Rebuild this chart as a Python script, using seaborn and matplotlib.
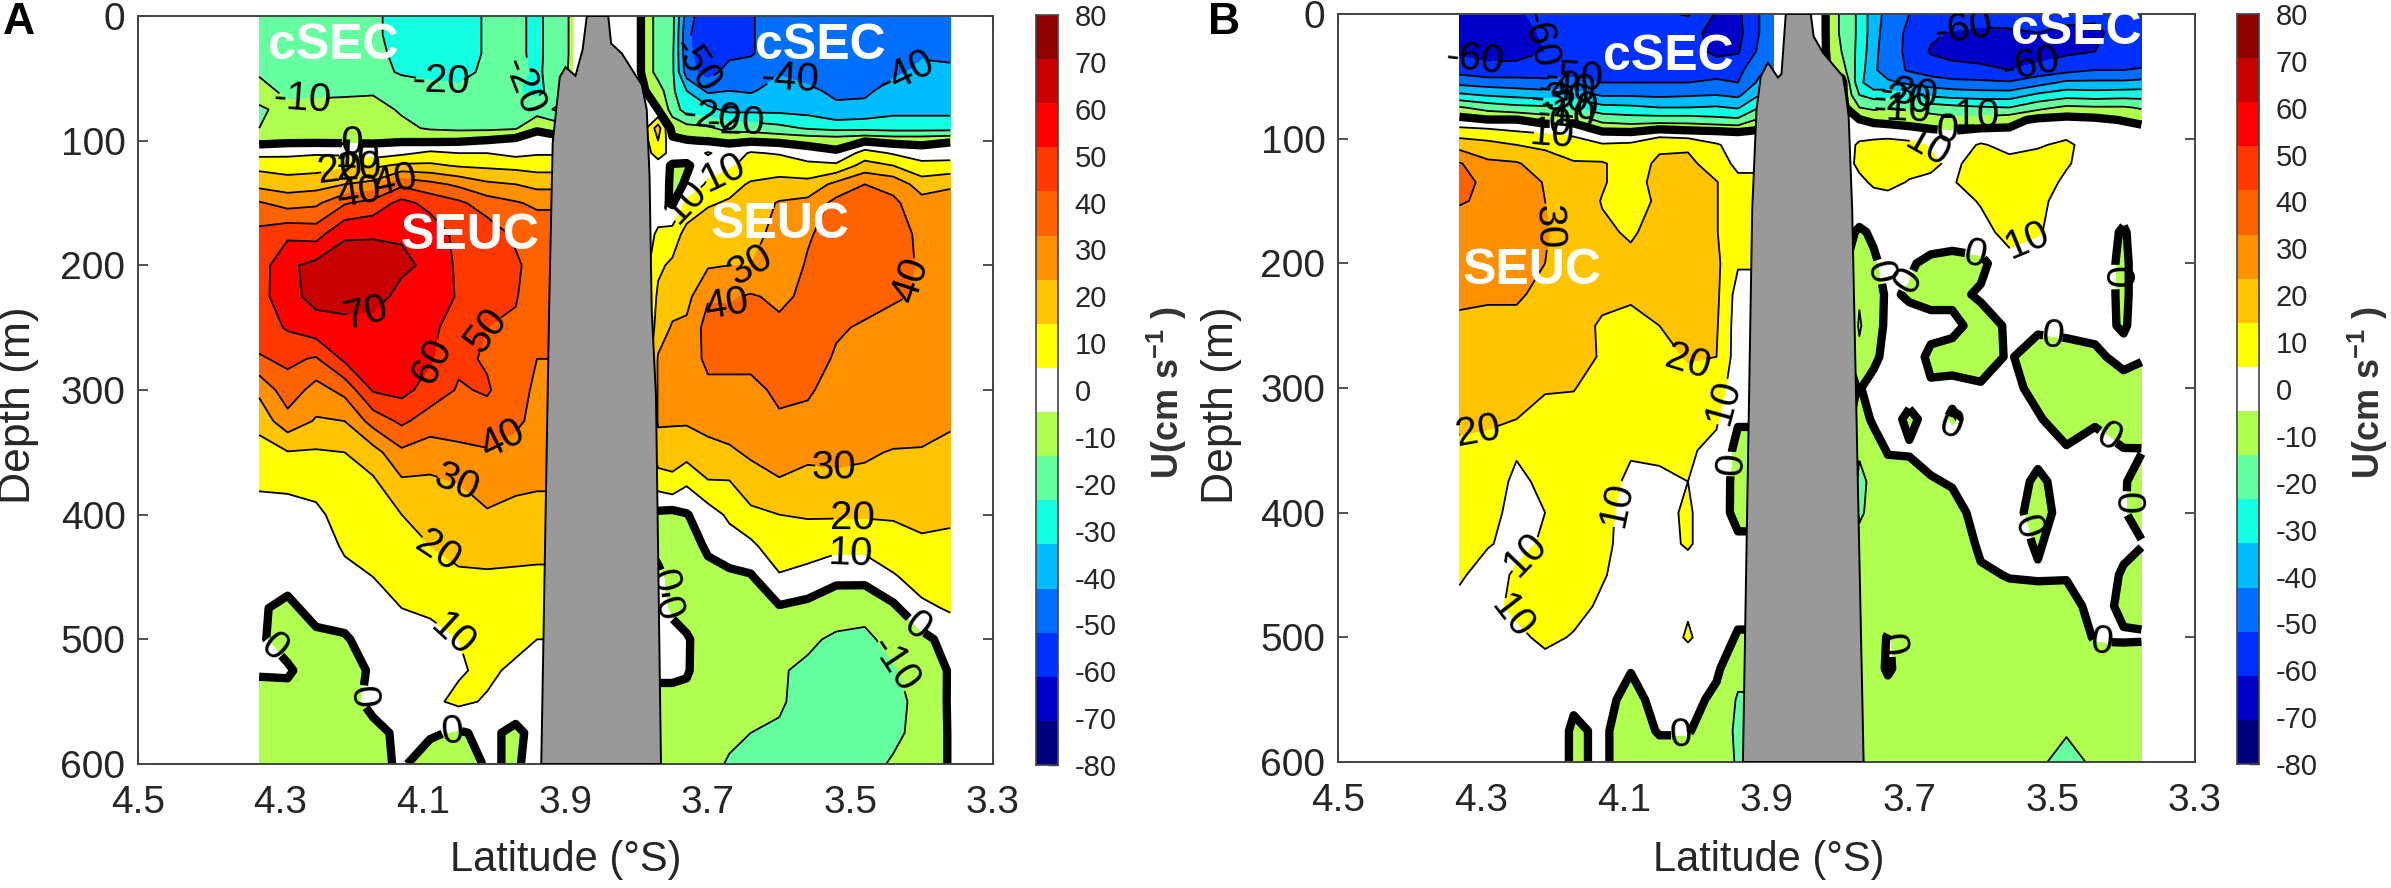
import numpy as np
import seaborn as sns
import matplotlib
matplotlib.use('Agg')
import matplotlib.pyplot as plt

sns.set_style('white')
plt.rcParams['font.family'] = ['Liberation Sans', 'DejaVu Sans']
plt.rcParams['mathtext.fontset'] = 'custom'
plt.rcParams['mathtext.rm'] = 'Liberation Sans'
plt.rcParams['mathtext.bf'] = 'Liberation Sans:bold'

W, H = 2391, 888

# colour of each 10 cm/s band, from -80 up to 80
BAND_COLORS = ['#00007f', '#0000c8', '#0030ff', '#006eff', '#00bdff', '#12ffe2', '#66ffa0', '#b0ff50', '#ffffff',
               '#ffff00', '#ffc400', '#ff9000', '#ff6200', '#ff3800', '#ff0000', '#c80000', '#8f0000']
BAR_TICKS = list(range(80, -90, -10))
X_TICKS = [4.5, 4.3, 4.1, 3.9, 3.7, 3.5, 3.3]
Y_TICKS = [0, 100, 200, 300, 400, 500, 600]

# ------------------ PANEL A ------------------ #
DEPTH_A = [0, 15, 30, 45, 60, 75, 90, 100, 110, 120, 135, 150, 175, 200, 225, 250, 275, 300, 325, 350,
           375, 400, 425, 450, 475, 500, 525, 550, 575, 600]
LAT_A_W = [4.33, 4.29, 4.25, 4.21, 4.17, 4.13, 4.09, 4.05, 4.01, 3.97, 3.94, 3.91, 3.89]
U_A_W = [
    [-15, -15, -15, -11, -7, -11, -10, -3, 7, 17, 27, 41, 53, 55, 56, 55, 49, 32, 24, 15, 11, 7, 5, 2, 1, 1, 1, -4, -5, -5],
    [-15, -15, -15, -14, -12, -8, -6, -2, 8, 15, 25, 36, 58, 68, 67, 61, 52, 46, 36, 19.5, 11, 8, 6, 3, -2, -3, 1, -3, -5, -5],
    [-16, -16, -16, -15, -12, -7, -5, -2, 9, 16, 26, 38, 56, 73, 73, 66, 49, 36, 29, 19, 13, 8, 6, 5, 3, -2, -4, -5, -5, -5],
    [-17, -17, -17, -16, -12, -6, -4, -2, 8, 18, 30, 49, 69, 74, 74, 67, 62, 43, 30, 20, 17, 14, 11, 8, 4, -1, -3, -3, -4, -4],
    [-19, -19, -18, -17, -11, -7, -5, -1.5, 5, 18, 33, 54, 69, 75, 74, 66, 63, 61, 44, 26, 18, 16, 13, 10, 7, 4, 1, 2, -2, -2],
    [-22, -22, -22, -21, -15, -11, -8, -1, 8, 22, 48, 63, 69, 72, 67, 66, 65, 63, 52, 38, 28, 20, 17, 13, 10, 8, 5, 4, 1.5, 1],
    [-24, -24, -24, -23, -16, -13, -11, -1.5, 12, 22, 43, 57, 66, 68, 66, 63, 61, 56, 45, 35, 28, 23, 20, 16, 11, 8, 5, 8, 1, -4],
    [-24, -24, -24, -23, -18, -15, -12, -1, 10, 19, 38, 52, 57, 58, 59, 54, 52, 49, 44, 38, 30, 27, 24, 18, 13, 10, 9, 12, -1, -5],
    [-19, -19, -19, -18, -17, -15, -12, 0.5, 10, 18, 32, 45, 56, 53, 52, 50, 49, 51, 46, 39, 34, 29, 23, 19, 16, 14, 12, 9, 2, 1],
    [-18, -18, -18, -17, -19, -15, -11, 3, 7, 17, 30, 41, 48, 52, 51, 48, 46, 44, 42, 36, 32, 27, 24, 18, 15, 13, 8, 5, -2, -1],
    [-22, -22, -22, -22, -23, -15, -1, 3, 9, 16, 27, 38, 47, 45, 42, 41, 40, 38, 37, 34, 31, 27, 23, 18, 15, 10, 7, 3, 3, 3],
    [-15, -15, -15, -14, -14, -22, -4, 3, 9, 16, 27, 38, 47, 45, 42, 41, 40, 38, 37, 34, 31, 27, 23, 18, 15, 10, 7, 3, 3, 3],
    [-8, -8, -8, -8, -8, -8, -4, 3, 9, 16, 27, 38, 47, 45, 42, 41, 40, 38, 37, 34, 31, 27, 23, 18, 15, 10, 7, 3, 3, 3],
]
LAT_A_E = [3.82, 3.795, 3.77, 3.75, 3.73, 3.70, 3.67, 3.64, 3.60, 3.56, 3.52, 3.48, 3.44, 3.40, 3.36]
U_A_E = [
    [6] * 30,
    [0.5, 0.5, 0.5, 0.5] + [2] * 26,
    [-14, -14, -14, -14, -5, 0, 25, 20, 15, 5, 10, 3, 12, 18, 22, 25, 31, 31, 31, 26, 14, -2, -3, 2, 2, 1, 2, -3, -4, -3],
    [-17, -17, -18, -18, -18, -14, -4, 2, 6, -1, -3, -1, 14, 22, 26, 31, 33, 32, 31, 25, 17, -3, -4, -3, -1, 2, 2, -3, -4, -5],
    [-45, -48, -47, -45, -30, -25, -6, 0.5, 4, -1, 1, 12, 24, 23, 27, 32, 33, 33, 31, 24, 11, -0.5, -3, -3, -4, 1, 1, -3, -4, -5],
    [-58, -58, -58, -55, -42, -27, -8, -0.5, 11, 5, 12, 19, 26, 29, 39, 44, 43, 37, 33, 27, 19, 5, 1, -2, -5, -5, -6, -6, -6, -7],
    [-52, -53, -53, -45, -40, -33, -14, -1.5, 5, 8, 17, 21, 25, 30, 39, 43, 43, 37, 33, 29, 19, 12, 5, -2, -6, -7, -7, -7, -8, -11],
    [-51, -51, -51, -45, -41, -33, -14, -1, 11, 15, 21, 24, 27, 30, 41, 44, 44, 36, 34, 31, 27, 17, 8, -1, -6, -8, -8, -8, -10, -12],
    [-44, -44, -44, -41, -36, -33, -17, -2, 9, 17, 22, 31, 33, 34, 38, 42, 44, 43, 38, 34, 29, 20, 16, 9, -1, -8, -9, -9, -11, -10.5],
    [-44, -44, -44, -42, -39, -34, -21, -3, 4, 13, 23, 33, 39, 41, 42, 44, 44, 41, 38, 32, 27, 21, 14, 7, -3, -8, -12, -13, -13, -14],
    [-44, -44, -44, -43, -41, -39, -23, -4, 1.5, 12, 33, 43, 44, 44, 43, 41, 39, 37, 36, 32, 28, 21, 13, 1.5, -4, -12, -13, -14, -14, -14],
    [-44, -44, -44, -44, -42, -37, -23, -1, 14, 24, 40, 50, 46, 45, 43, 39, 37, 37, 36, 31, 28, 21, 13, 2.5, -7, -12, -15, -15, -14, -13],
    [-44, -44, -44, -42, -36, -33, -24, -3, 9, 20, 37, 42, 44, 43, 41, 37, 37, 35, 34, 29.5, 28, 21, 16, 9, -2, -7, -11, -13, -12, -9],
    [-41, -41, -41, -38, -35, -33, -24, -3, 5, 13, 25, 34, 38, 39, 39, 35, 33, 34, 35, 29, 27, 23, 18, 14, 8, -3, -6, -7, -7, -7],
    [-42, -42, -42, -38, -36, -33, -24, -1, 6, 13, 29, 33, 33, 33, 33, 33, 33, 33, 31, 28, 26, 21.5, 18, 15, 11, 4, 0.8, 1, 0.8, 0.8],
]
RIDGE_A_LAT = [3.870, 3.876, 3.886, 3.900, 3.908, 3.913, 3.918, 3.923, 3.934, 3.766, 3.773, 3.779, 3.782, 3.786, 3.793, 3.800, 3.821, 3.836, 3.840]
RIDGE_A_DEPTH = [0, 27, 48, 41, 49, 75, 102, 236, 600, 600, 305, 236, 129, 75, 55, 49, 30, 22, 0]
LABELS_A = [(4.27, 62), (4.076, 55), (3.963, 55), (4.19, 100), (4.19, 118), (4.21, 128), (4.19, 145), (4.14, 132),
            (4.18, 239), (4.10, 271), (4.02, 250), (3.985, 344), (4.055, 378), (4.08, 430), (4.055, 493),
            (3.443, 523), (3.416, 212), (3.636, 210), (3.674, 232), (3.523, 362), (3.497, 400), (3.50, 434),
            (3.68, 123), (3.727, 151), (3.72, 40), (3.588, 58), (3.427, 37), (3.695, 80), (3.67, 85)]
ZEROS_A = [(4.296, 496), (4.19, 546), (4.06, 571), (3.405, 487), (3.73, 450), (3.755, 475), (4.20, 95)]

# ------------------ PANEL B ------------------ #
DEPTH_B = [0, 15, 30, 45, 55, 65, 75, 85, 95, 105, 120, 135, 150, 175, 200, 225, 250, 275, 300, 325,
           350, 375, 400, 425, 450, 475, 500, 525, 550, 575, 600]
LAT_B_W = [4.33, 4.29, 4.25, 4.21, 4.17, 4.13, 4.09, 4.05, 4.01, 3.97, 3.94, 3.91, 3.89]
U_B_W = [
    [-64, -65, -62, -54, -43, -28, -9, 3, 15, 26, 41, 44, 41, 34, 33, 31, 29, 27, 25, 22, 18, 16, 15, 14, 11, 8, 6, 6, 6, 6, 6],
    [-63, -65, -64, -57, -45, -31, -14, 0.5, 14, 23, 32, 37, 38, 37, 34, 31, 28, 26, 25, 21, 18, 15, 13, 10.5, 7, 6, 6, 6, 6, 6, 6],
    [-62, -65, -64, -56, -46, -33, -17, 0.5, 11, 20, 31, 34, 35, 36, 33, 32, 26, 26, 24, 20, 11, 8, 7, 8, 11, 13, 7, 5, 5, 5, 5],
    [-56, -58, -60, -56, -47, -35, -18, -4, 9, 18, 25, 29.5, 30, 30.5, 30, 26, 25, 24, 21, 16, 13, 12, 10, 11, 15, 16, 13, 5, 5, 5, 5],
    [-52, -55, -57, -54, -47, -35, -20, -3, 8, 14, 21, 26, 26, 27, 26, 26, 26, 24, 20.5, 16, 14, 13, 13, 15, 15, 14, 9, 6, 1, -1, -1],
    [-53, -55, -56, -54, -50, -41, -27, -13, 1, 11, 21, 21, 19.5, 21.5, 24, 24, 18, 19, 15, 14, 14, 14, 13, 13, 11, 8, 6, 4, 3, 1, 1],
    [-53, -55, -55, -54, -50, -41, -28, -15, 0.5, 12, 15, 15, 15, 19, 22, 22, 16, 17, 15, 14, 11, 8, 6, 5, 5, 4, 3, 0.5, -3, -3, -3],
    [-52, -56, -56, -54, -50, -42, -30, -15, 5, 18, 22, 24, 22, 23, 22, 21, 20, 16, 14, 14, 11, 9, 8, 7, 7, 7, 5, 4, 3, 0.5, -3],
    [-49, -57, -56, -54, -50, -41, -30, -15, 3, 18, 23, 24, 24, 25, 26, 26, 25, 21, 15, 13, 11, 10, 11, 11, 6, 9, 11, 5, 3, 0.5, -3],
    [-61, -63, -62, -55, -48, -40, -29, -17, 2, 11, 14, 20.5, 20.5, 20.5, 22, 22, 21, 20, 14, 11, 8, 7, 5, 5, 5, 5, 5, 1.5, -2, -4, -5],
    [-62, -63, -61, -53, -50, -42, -31, -18, 0.5, 6, 8, 12, 12, 12, 11, 6, 5, 5, 5, 1, -3, -4, -3, 2, 4, 3, -1, -7, -11, -12, -11],
    [-50, -50, -48, -42, -38, -30, -20, -8, 2, 5, 8, 12, 12, 12, 11, 6, 5, 5, 5, 1, -3, -4, -3, 2, 4, 3, -1, -7, -11, -12, -11],
    [-40, -40, -40, -40, -38, -30, -20, -8, 2, 5, 8, 12, 12, 12, 11, 6, 5, 5, 5, 1, -3, -4, -3, 2, 4, 3, -1, -7, -11, -12, -11],
]
LAT_B_E = [3.82, 3.795, 3.77, 3.75, 3.73, 3.70, 3.67, 3.64, 3.60, 3.56, 3.52, 3.48, 3.44, 3.40, 3.375]
U_B_E = [
    [1.5] * 31,
    [-12, -12, -10, -5, 3] + [3] * 26,
    [-22, -22, -23, -25, -27, -20, -10, 0.5, 5, 12, 13, 7, 5, -1, -8, -9, -11, -8, -0.5, -3, -9, -12, -11, -8, -7, -7, -7, -7, -7, -7, -7],
    [-36, -36, -37, -38, -38, -24, -12, -2, 6, 13, 14, 12, 5, 1, -1, -4, -4, -2, 3, 1, -3, -8, -8, -7, -7, -7, -7, -7, -7, -7, -7],
    [-43, -45, -46, -46, -38, -24, -11, -3, 6, 14, 15, 14, 5, 5, 2, 1.5, 2, 3, 5, 4, 0.5, -3, -7, -8, -8, -8, 1, 2, -7, -8, -8],
    [-50, -52, -52, -51, -42, -28, -11, -4, 4, 13, 15, 9, 7, 5, 1, -1, 3, 5, 4, -2, 1, -4, -8, -8, -8, -8, -8, -8, -8, -8, -8],
    [-50, -58, -61, -55, -45, -32, -15, -5, 2, 9, 12, 8, 6, 5, -2, -3, 3, -2, 1, 3, 4, -1, -5, -8, -8, -8, -8, -8, -8, -8, -8],
    [-52, -61, -62, -58, -47, -34, -17, -7, 1, 5, 8, 9, 5, 3, -2, -2, 2, -3, 2, -1, 3, 1, -4, -8, -8, -8, -8, -8, -8, -8, -8],
    [-55, -62, -64, -58, -48, -35, -19, -6, 3, 11, 14, 16, 11, 6, -2, 1, -3, -4, 1, 3, 5, 6, 4, 2, -1.5, -5, -8, -8, -8, -8, -8],
    [-53, -62, -66, -60, -49, -35, -20, -3, 2, 7, 13, 15, 11, 14, 6, 3, 1, 1, 3, 4, 5, 5, 5, 4, 0.5, -4, -8, -8, -8, -8, -8],
    [-52, -60, -66, -56, -44, -28, -13, 2, 6, 9, 14, 15, 13, 11, 4, 3, 2, -5, -3, 1, 3, -2, -5, -1, 1, -4, -8, -8, -8, -8, -8],
    [-57, -62, -62, -53, -38, -24, -8, 3, 7, 12, 11, 8, 5, 5, 5, 5, 2, -3, -6, -5, 1, 4, 5, 5, 1, -5, -8, -8, -8, -9, -14],
    [-58, -62, -60, -50, -38, -25, -9, 2, 6, 5, 5, 5, 5, 5, 5, 5, 3, -2, -5, -1, 3, 5, 5, 5, 5, 4, 1, -6, -8, -8, -8],
    [-55, -56, -57, -50, -38, -24, -9, -0.5, 5, 5, 5, 4, 4, -1, -2, -2, -1, 3, -4, -6, 0.5, 1, 0.5, 2, -1, -2, 1, -5, -6, -6, -6],
    [-55, -56, -57, -49, -37, -24, -11, -3, 5, 5, 5, 5, 5, 5, 5, 5, 4, 1, -5, -7, 0.5, -4, -3, 0.5, -4, -3, 1, -6, -7, -7, -7],
]
RIDGE_B_LAT = [3.873, 3.879, 3.884, 3.898, 3.908, 3.914, 3.920, 3.933, 3.764, 3.780, 3.785, 3.789, 3.793, 3.821, 3.834, 3.838]
RIDGE_B_DEPTH = [0, 48, 51, 39, 50, 77, 157, 600, 600, 157, 82, 64, 50, 31, 18, 0]
LABELS_B = [(4.305, 18), (4.18, 5), (4.17, 16), (4.18, 59), (4.19, 70), (4.176, 76), (4.18, 78), (4.2, 101),
            (4.2, 170), (4.305, 325), (4.02, 304), (3.97, 309), (4.155, 384), (4.21, 456), (4.246, 477),
            (3.54, 168), (3.68, 111), (3.625, 7), (3.53, 41), (3.7, 61), (3.71, 68), (3.71, 72), (3.614, 78)]
ZEROS_B = [(3.742, 207), (3.69, 220), (3.61, 202), (3.405, 211), (3.5, 266), (3.64, 329), (3.426, 345), (3.95, 361),
           (3.383, 393), (3.534, 411), (3.43, 500), (3.726, 506), (4.02, 586), (3.646, 86), (4.19, 86)]


def px_axes(x0, y0, x1, y1):
    """Axes from pixel corners of the picture (top left origin)."""
    return fig.add_axes([x0 / W, 1 - y1 / H, (x1 - x0) / W, (y1 - y0) / H])


def draw_panel(ax, lat_w, u_w, lat_e, u_e, depth, ridge_lat, ridge_depth, labels, zeros):
    # a blank column keeps the two sides of the ridge apart
    lat = np.array(lat_w + [3.85] + lat_e)
    cols = [np.array(c, dtype=float) for c in u_w] + [np.full(len(depth), np.nan)] + [np.array(c, dtype=float) for c in u_e]
    u = np.ma.masked_invalid(np.column_stack(cols))
    levels = np.arange(-80, 81, 10)
    fill_colors = sns.color_palette(BAND_COLORS)[:16]
    ax.contourf(lat, depth, u, levels=levels, colors=fill_colors)
    thin = ax.contour(lat, depth, u, levels=[_ for _ in levels if _ != 0], colors='k', linewidths=1.3,
                      linestyles='solid', negative_linestyles='solid')
    thick = ax.contour(lat, depth, u, levels=[0], colors='k', linewidths=6, linestyles='solid',
                       negative_linestyles='solid')
    ax.clabel(thin, manual=labels, fmt='%d', fontsize=29, inline=True, inline_spacing=1)
    ax.clabel(thick, manual=zeros, fmt='%d', fontsize=29, inline=True, inline_spacing=1)
    ax.fill(ridge_lat, ridge_depth, facecolor='#999999', edgecolor='k', linewidth=1.4, zorder=5)

    ax.set_xlim(4.5, 3.3)
    ax.set_ylim(600, 0)
    ax.set_xticks(X_TICKS)
    ax.set_xticklabels([f'{_:.1f}' for _ in X_TICKS])
    ax.set_yticks(Y_TICKS)
    ax.tick_params(axis='both', direction='in', length=7, width=1.2, top=True, right=True, left=True, bottom=True,
                   color='#333333', labelcolor='#262626', labelsize=28)
    ax.tick_params(axis='x', pad=15)
    ax.tick_params(axis='y', pad=9)
    for _, spine in ax.spines.items():
        spine.set_visible(True)
        spine.set_color('#444444')
        spine.set_linewidth(1.4)
    ax.set_facecolor('white')


def draw_bar(cax):
    sns.heatmap(np.array(BAR_TICKS).reshape(-1, 1), cmap=sns.color_palette(BAND_COLORS), cbar=False, ax=cax,
                xticklabels=False, yticklabels=False)
    n = len(BAR_TICKS)
    cax.yaxis.tick_right()
    cax.set_yticks([(80 - t) / 160 * n for t in BAR_TICKS])
    cax.set_yticklabels([str(t) for t in BAR_TICKS], rotation=0)
    cax.tick_params(axis='y', direction='in', length=7, width=1, left=False, right=True, pad=12,
                    labelsize=21, color='#333333', labelcolor='#262626')
    for _, spine in cax.spines.items():
        spine.set_visible(True)
        spine.set_color('#444444')
        spine.set_linewidth(1.2)


# ------------------ CHARTS ------------------ #
fig = plt.figure(figsize=(W / 100, H / 100), dpi=100, facecolor='white')

ax_a = px_axes(138, 16, 993, 764)
draw_panel(ax_a, LAT_A_W, U_A_W, LAT_A_E, U_A_E, DEPTH_A, RIDGE_A_LAT, RIDGE_A_DEPTH, LABELS_A, ZEROS_A)
ax_b = px_axes(1338, 14, 2195, 762)
draw_panel(ax_b, LAT_B_W, U_B_W, LAT_B_E, U_B_E, DEPTH_B, RIDGE_B_LAT, RIDGE_B_DEPTH, LABELS_B, ZEROS_B)

draw_bar(px_axes(1036, 15, 1058, 765))
draw_bar(px_axes(2237, 14, 2259, 764))


def px_text(x, y, s, **kw):
    fig.text(x / W, 1 - y / H, s, ha='center', va='center', **kw)


for x, y in [(333, 46), (820, 46), (1668, 57), (2076, 31)]:
    px_text(x, y, 'cSEC', color='white', fontsize=36, fontweight='bold', zorder=10)
for x, y in [(470, 236), (780, 225), (1532, 271)]:
    px_text(x, y, 'SEUC', color='white', fontsize=36, fontweight='bold', zorder=10)

px_text(19, 23, 'A', fontsize=32, fontweight='bold', color='k')
px_text(1224, 23, 'B', fontsize=32, fontweight='bold', color='k')
for x in [566, 1769]:
    px_text(x, 860, 'Latitude (°S)', fontsize=30, color='#262626')
for x in [19, 1222]:
    px_text(x, 405, 'Depth (m)', fontsize=32, color='#262626', rotation=90)
for x in [1167, 2368]:
    px_text(x, 393, r'U(cm s$^{\mathbf{-1}}$ )', fontsize=26, fontweight='bold', color='#333333', rotation=90)

fig.savefig('out.png', dpi=100, facecolor='white')
